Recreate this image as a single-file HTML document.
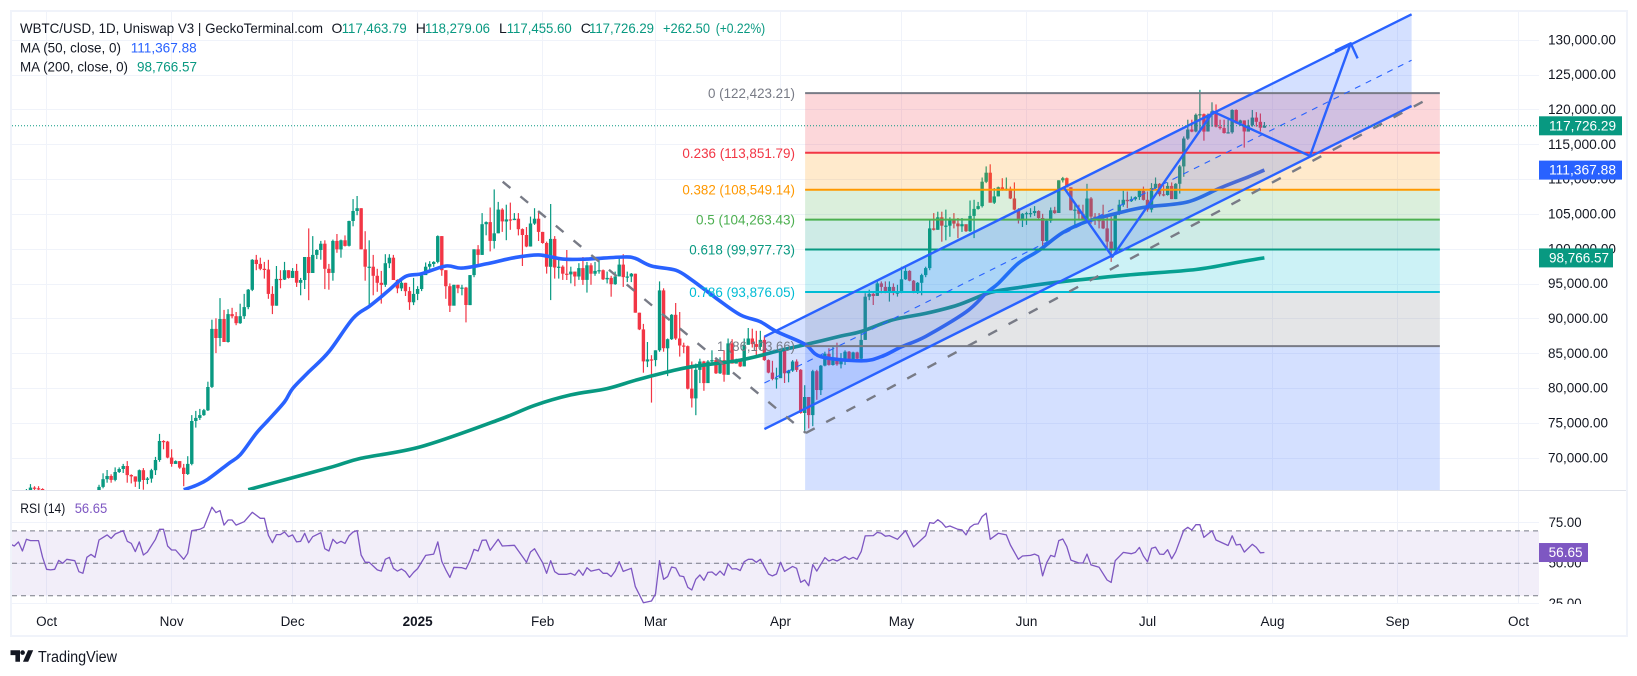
<!DOCTYPE html>
<html lang="en">
<head>
<meta charset="utf-8">
<title>WBTC/USD chart</title>
<style>
html,body{margin:0;padding:0;background:#fff;width:1637px;height:676px;overflow:hidden}
svg{display:block}
text{font-family:"Liberation Sans",sans-serif;font-size:14px;fill:#131722}
</style>
</head>
<body>
<svg id="chart" xmlns="http://www.w3.org/2000/svg" width="1637" height="676" viewBox="0 0 1637 676">
  <defs>
    <clipPath id="price-clip"><rect x="12" y="12" width="1527" height="478"/></clipPath>
    <clipPath id="rsi-clip"><rect x="12" y="491" width="1527" height="113"/></clipPath>
    <clipPath id="axis-clip"><rect x="1539" y="491" width="87" height="113"/></clipPath>
  </defs>
  <rect x="0" y="0" width="1637" height="676" fill="#ffffff"/>
  <g id="grid" shape-rendering="crispEdges"></g>
  <g id="price-pane" clip-path="url(#price-clip)">
    <g id="candles"></g>
    <g id="mas"></g>
    <g id="drawings"></g>
  </g>
  <g id="rsi-pane" clip-path="url(#rsi-clip)"></g>
  <rect x="12" y="490" width="1614" height="1" fill="#e0e3eb"/>
  <rect x="11" y="11" width="1616" height="625" fill="none" stroke="#f0f3fa" stroke-width="2"/>
  <g id="price-axis"></g>
  <g id="rsi-axis" clip-path="url(#axis-clip)"></g>
  <g id="time-axis"></g>
  <g id="tags"></g>

  <g>
    <text x="20" y="33" textLength="303" lengthAdjust="spacingAndGlyphs">WBTC/USD, 1D, Uniswap V3 | GeckoTerminal.com</text>
    <text x="331.5" y="33">O</text>
    <text x="341.7" y="33" textLength="65" lengthAdjust="spacingAndGlyphs" style="fill:#089981">117,463.79</text>
    <text x="415.7" y="33">H</text>
    <text x="425" y="33" textLength="65" lengthAdjust="spacingAndGlyphs" style="fill:#089981">118,279.06</text>
    <text x="499" y="33">L</text>
    <text x="506.7" y="33" textLength="65" lengthAdjust="spacingAndGlyphs" style="fill:#089981">117,455.60</text>
    <text x="580.7" y="33">C</text>
    <text x="589" y="33" textLength="65" lengthAdjust="spacingAndGlyphs" style="fill:#089981">117,726.29</text>
    <text x="663" y="33" textLength="47" lengthAdjust="spacingAndGlyphs" style="fill:#089981">+262.50</text>
    <text x="715.7" y="33" textLength="49.5" lengthAdjust="spacingAndGlyphs" style="fill:#089981">(+0.22%)</text>
    <text x="20" y="52.5" textLength="101" lengthAdjust="spacingAndGlyphs">MA (50, close, 0)</text>
    <text x="130.7" y="52.5" textLength="66" lengthAdjust="spacingAndGlyphs" style="fill:#2962ff">111,367.88</text>
    <text x="20" y="71.5" textLength="108" lengthAdjust="spacingAndGlyphs">MA (200, close, 0)</text>
    <text x="137" y="71.5" textLength="60" lengthAdjust="spacingAndGlyphs" style="fill:#089981">98,766.57</text>
    <text x="20.3" y="513" textLength="45" lengthAdjust="spacingAndGlyphs">RSI (14)</text>
    <text x="74.7" y="513" textLength="32.6" lengthAdjust="spacingAndGlyphs" style="fill:#7e57c2">56.65</text>
  </g>

  <g>
    <path fill="#131722" d="M10.5 650.3h9.5v11.4h-4.6v-6.6h-4.9z"/>
    <circle cx="22.6" cy="652.6" r="2.3" fill="#131722"/>
    <path fill="#131722" d="M28 650.3h5.2l-5 11.4h-5.2z"/>
    <text x="38" y="662" textLength="79" lengthAdjust="spacingAndGlyphs" style="font-size:15.5px">TradingView</text>
  </g>
</svg>
<script>
// ---------- chart data (prices in thousands of USD, days counted from 1 Oct 2024) ----------
const firstCandleDay = -8;
const firstCandleOpen = 63.0;
const candleCloses = [
63.3,63.5,64.2,65.2,65.8,65.7,65.6,65.1,
61.5,60.8,60.6,60.7,62.0,62.1,62.8,62.2,62.1,60.6,60.3,62.4,63.1,65.9,
67.0,67.46,66.9,68.04,68.47,68.9,67.6,67.4,66.65,68.3,
66.9,67.1,68.3,69.76,72.49,72.4,70.1,69.2,69.6,68.66,
67.75,69.2,75.36,75.8,76.2,76.9,80.24,88.57,87.27,90.0,
86.7,90.7,90.4,89.4,90.4,91.7,94.2,98.5,97.9,97.2,
97.1,93.6,91.9,95.75,95.65,97.0,95.9,96.9,95.2,95.6,
98.9,96.6,99.2,99.9,100.8,97.2,96.6,101.2,100.0,101.3,
100.5,104.06,105.5,105.9,100.0,97.5,97.5,96.2,95.2,94.9,
98.0,98.8,95.6,94.4,95.2,94.0,92.4,93.6,94.3,96.3,
97.5,97.9,98.2,101.9,97.0,94.7,91.9,94.9,94.4,94.5,
92.0,96.3,100.0,99.2,103.6,103.9,101.2,102.3,105.7,104.0,
104.3,104.2,104.4,102.9,102.05,100.4,103.7,104.4,102.5,100.9,
97.5,101.5,97.4,97.5,96.5,96.4,96.8,96.1,97.3,95.6,
97.7,96.5,96.9,97.0,95.7,95.9,95.0,96.1,97.8,96.0,
96.1,96.5,90.9,88.5,83.9,84.2,84.1,85.5,94.1,85.8,
87.1,90.6,87.2,86.2,86.1,80.0,78.6,82.7,83.9,80.8,
83.9,84.1,82.2,84.1,82.0,86.5,83.6,84.0,83.2,86.3,
87.2,86.4,86.0,87.0,84.1,82.3,81.4,81.5,85.4,82.2,
82.6,83.9,82.7,76.5,78.8,76.2,82.5,79.8,83.3,85.0,
83.4,84.2,83.5,84.2,85.3,84.2,85.2,84.3,87.0,93.2,
93.6,93.3,95.1,94.6,93.8,94.6,93.8,93.8,95.7,96.9,
95.5,93.9,95.2,96.3,97.3,103.0,102.8,104.6,103.4,103.4,
104.3,103.7,103.3,103.6,102.6,104.8,105.8,106.2,109.7,111.0,
106.7,107.6,108.9,108.5,108.7,107.3,105.7,104.2,105.1,105.2,
105.2,105.5,104.5,101.2,104.1,105.6,105.2,109.9,110.2,108.9,
105.6,105.7,105.1,104.2,107.3,104.7,104.2,104.1,103.0,101.1,
100.1,105.1,106.4,107.1,106.9,107.2,107.5,108.4,107.1,105.7,
108.8,109.4,107.9,107.8,109.1,107.2,109.4,111.9,115.9,117.2,
116.9,119.3,119.4,116.9,119.3,119.8,117.6,117.4,116.7,116.8,
120.0,118.1,118.5,116.9,117.8,118.9,118.3,117.46,117.73
];
const candleHighs = [
63.8,64.5,64.8,65.6,66.3,66.0,66.0,65.7,
64.0,62.0,61.5,61.2,62.2,62.4,63.0,63.1,62.7,62.3,61.2,62.6,63.5,66.2,
67.85,68.33,67.7,68.7,68.7,69.2,69.6,67.7,67.4,68.4,
68.6,67.3,68.5,70.2,73.5,72.6,72.5,71.3,69.7,69.6,
69.2,70.3,76.2,76.8,77.1,77.1,81.0,89.9,90.1,93.0,
91.3,91.4,91.6,91.0,92.2,93.6,94.3,98.6,99.2,98.8,
98.2,98.5,94.7,97.6,97.0,98.2,97.0,97.3,97.9,95.9,
98.9,103.0,101.9,100.0,101.2,101.3,97.9,101.4,102.2,101.4,
102.0,104.1,107.2,107.65,105.9,102.6,101.3,99.2,97.2,96.9,
99.3,99.3,99.2,95.7,95.7,95.2,94.6,95.9,94.7,96.4,
98.1,98.3,98.3,102.0,101.9,97.0,95.1,94.9,94.9,94.9,
94.6,96.3,100.0,100.6,105.2,104.0,106.0,108.6,106.8,105.9,
106.4,106.7,105.2,105.2,103.0,103.2,104.7,105.9,105.5,102.5,
101.1,106.5,101.9,98.9,97.7,99.9,97.5,96.8,98.0,98.9,
98.2,98.0,98.2,98.5,97.1,96.8,96.2,96.8,98.7,99.3,
96.8,96.6,96.5,90.9,89.3,86.7,84.8,85.5,95.4,94.4,
87.2,90.7,92.3,91.0,86.6,86.2,83.9,83.6,84.3,84.0,
84.1,85.5,84.2,84.5,85.5,87.2,87.1,84.3,84.1,87.2,
88.7,88.6,88.3,88.3,87.5,84.2,84.0,83.0,85.5,85.5,
82.7,84.1,84.2,82.8,80.5,78.8,82.7,82.7,83.4,85.3,
85.8,86.0,86.6,85.1,85.5,85.4,85.3,85.3,88.4,93.7,
94.2,93.9,95.6,95.4,95.4,95.4,95.1,94.9,97.5,97.5,
97.0,95.6,95.3,96.5,97.5,104.2,105.2,105.4,105.4,105.7,
104.6,105.2,104.5,104.5,103.5,107.0,107.1,106.8,110.3,111.9,
112.2,108.8,109.0,110.2,110.3,109.0,109.6,105.9,105.2,105.4,
105.9,106.2,105.6,105.1,104.2,106.0,106.1,109.9,110.4,110.3,
108.9,106.6,106.4,106.4,109.4,107.5,105.2,105.2,106.4,104.7,
104.7,105.2,107.1,108.4,108.3,107.6,107.6,108.5,109.0,108.3,
109.5,110.3,109.5,109.2,109.6,109.6,109.5,112.1,116.2,118.6,
118.6,119.5,122.9,119.5,119.5,121.1,120.8,118.6,118.6,118.6,
120.1,120.1,118.6,118.5,118.6,120.0,119.7,119.5,118.28
];
const candleLows = [
62.5,62.8,63.2,63.7,64.7,65.0,65.0,64.5,
61.0,60.0,60.2,60.0,60.5,61.6,61.9,61.9,61.8,60.3,59.0,60.0,62.0,62.8,
65.7,66.5,66.5,66.7,67.9,67.9,66.5,66.4,65.9,65.6,
65.5,66.3,66.5,67.6,69.5,71.3,70.0,68.8,69.2,68.5,
66.0,67.6,69.0,74.4,75.5,76.1,76.8,80.1,85.1,86.1,
86.7,86.6,90.1,89.1,89.3,90.0,91.4,94.0,97.0,97.0,
95.8,92.9,90.7,91.9,94.4,95.6,95.8,95.9,94.6,93.4,
94.3,92.7,96.6,98.6,98.5,94.3,94.2,95.5,99.5,98.8,
100.4,100.4,103.3,104.9,100.0,95.5,91.9,93.4,93.9,92.2,
94.6,97.3,95.6,93.7,94.0,93.3,91.3,92.0,92.7,94.0,
96.3,96.7,97.5,98.0,96.2,92.9,91.0,92.0,93.7,93.4,
89.5,92.0,96.0,97.5,99.2,102.0,99.7,100.1,102.3,102.5,
101.3,102.8,104.2,102.0,97.6,100.3,100.4,103.5,101.2,100.8,
96.5,92.7,95.8,95.8,95.6,95.6,95.1,94.7,95.6,94.9,
93.8,94.9,96.2,96.5,95.6,95.1,93.2,94.9,96.1,94.6,
95.3,95.3,90.9,88.4,82.3,83.1,78.0,83.2,85.3,85.3,
81.8,87.0,87.0,84.6,85.1,79.9,77.3,76.2,80.8,79.7,
80.9,83.6,82.1,82.1,81.0,82.0,83.6,83.6,83.1,83.2,
86.3,85.9,84.8,85.5,84.0,82.2,81.2,80.0,81.7,80.8,
80.9,82.4,82.4,76.4,74.0,74.3,74.6,78.4,79.1,83.2,
83.3,83.3,83.3,82.9,83.4,84.0,84.0,83.9,84.2,87.0,
92.7,92.0,93.3,93.7,93.7,92.5,93.4,93.2,93.7,95.6,
95.4,93.7,93.6,93.4,96.0,97.0,102.7,102.8,101.1,101.3,
101.8,103.0,101.6,102.5,102.5,102.5,101.6,105.7,106.0,109.5,
106.7,106.5,107.6,108.4,108.4,107.2,105.6,103.7,103.2,103.5,
104.6,104.8,104.4,100.3,101.1,103.8,105.1,105.2,109.6,108.9,
105.6,103.0,104.3,104.2,104.1,103.7,103.5,103.0,102.9,99.9,
98.2,100.1,104.9,106.1,105.9,106.8,107.0,107.1,107.0,105.4,
105.3,108.5,107.6,107.6,107.7,107.2,107.2,108.0,110.4,115.7,
116.8,116.8,116.9,115.6,116.9,117.6,117.5,117.2,116.6,116.6,
116.6,118.0,117.7,114.6,116.9,117.6,117.6,116.9,117.46
];
const ma50Days = [34,37,40,45,48,52,55,59,61,65,70,76,80,83,85,89,93,99,103,109,116,122,128,134,143,146,150,156,160,166,172,177,181,188,192,202,207,212,218,228,233,236,241,246,252,258,267,273,283,291,298,302];
const ma50Values = [65.5,66.1,67.0,69.2,70.5,73.6,75.5,78.1,80.0,82.4,85.3,90.1,91.8,93.2,94.2,96.1,96.5,97.6,97.3,97.9,98.8,99.2,98.6,98.6,98.9,98.7,97.6,97.0,95.6,93.0,90.6,89.6,88.2,86.4,84.6,84.0,84.6,86.0,87.5,91.0,93.7,95.1,98.0,99.8,102.4,104.0,105.4,106.1,106.8,108.8,110.4,111.37];
const ma200Days = [50,59,71,78,93,112,121,130,139,146,154,160,172,182,188,197,202,210,218,226,234,241,251,268,285,296,302];
const ma200Values = [65.5,66.9,68.8,70.0,71.7,75.5,77.6,79.1,80.0,81.2,82.4,83.15,84.1,85.5,86.3,87.55,88.2,89.9,90.8,92.0,93.8,94.5,95.3,96.3,97.1,98.2,98.77];
const rsiDays = [-9,-8,-7,-6,-5,-4,-2,-1,0,1,2,3,4,5,7,8,9,10,11,12,13,14,15,16,17,19,20,21,22,23,24,25,27,28,29,30,31,32,34,35,36,38,39,41,42,43,44,45,46,47,49,51,53,54,55,56,57,58,59,60,61,62,63,64,65,66,68,69,70,71,72,73,74,75,76,77,78,79,80,82,83,84,85,86,87,88,89,90,91,92,94,96,97,98,99,100,101,103,104,105,106,107,108,109,110,112,113,116,119,120,121,123,124,125,126,127,129,130,131,132,133,134,135,137,138,139,140,141,142,143,145,146,148,150,151,152,153,154,155,156,157,158,159,160,161,162,163,164,165,166,167,168,169,170,171,172,173,174,175,176,177,179,180,181,182,183,185,186,187,188,189,190,191,193,194,195,196,198,199,200,201,202,203,205,206,207,208,209,211,213,215,218,219,220,221,222,223,224,226,227,228,229,230,231,232,233,234,236,238,239,241,242,244,245,246,247,248,249,250,251,252,253,254,256,257,258,259,261,263,264,265,267,269,270,271,272,273,274,275,276,277,278,279,280,282,283,284,285,286,287,289,290,293,294,295,296,297,299,300,301,302];
const rsiValues = [61.9,60.7,63.2,57.6,64.8,64,64,53.7,46.3,45.9,46.3,51.8,50,52.5,51.6,44.8,43.8,53.7,55.5,53.7,64.4,66,67.5,65.4,68.1,70.2,63.6,62.3,57.2,63.2,55.1,57,64.8,71,71,60.7,58.2,58.2,52.5,56.2,70.2,71,72.2,84.6,81.3,82.5,73.6,76.7,76.7,73.6,75.7,81.5,77.8,77.8,67.3,62.7,67.7,67.7,69.3,66.4,67.5,63.2,63.6,68.5,62.7,66.4,68.9,59,57.6,64.8,62.3,63.6,62.3,66.9,69.3,70.2,55.1,50.6,50.6,45.9,45.2,52.5,53.7,46.9,45.2,46.5,44.8,41.3,44.4,46.7,54.9,55.7,63.2,51.2,45.9,41.3,47.5,47.3,46.5,51.6,58.6,57.6,64.2,64.4,58,64.8,60.7,61.1,50.6,57,59,50.4,43.8,51.6,44.8,43.2,43.2,43.8,42.6,45.9,42.6,47.3,45.2,46.3,43.8,43.8,41.8,45.2,51,45,46.9,35.6,25.7,26.7,31.1,51.6,40.1,41.8,47.7,47.1,42.2,41.8,35.2,33.5,40.1,42.8,39.5,44.4,44.6,42.6,45.2,42.6,49.6,46.5,46.7,45.5,51,52.5,52.5,50.6,52.5,43.4,42.2,43.4,50.6,45,48.1,46.9,38.3,39.7,36.2,49.2,45.2,53.5,51.4,52.5,51.4,54.1,52.5,53.7,52.5,57.2,66.9,67.1,69.1,68.5,66.7,67.1,64.8,70.2,60.1,67.1,75.1,74.7,76.9,75.1,72.2,73,71,70.6,67.5,72.2,74,74.3,78.8,80.9,64.8,68.5,67.5,61.3,52.5,54.5,54.9,55.7,54.5,42.2,50.4,54.9,54.1,64,65,60.3,52,50.2,50.2,55.7,49,47.5,39.7,38.2,51.6,56.7,55.9,56.7,59.8,54.5,51,59.2,60,55.7,55.5,58.4,52.8,57.1,70.5,72.2,70.5,73.8,73.8,66,70.1,64.4,61,67,61.3,61.7,56.9,61.7,59.8,56.5,56.65];
const priceTickValues = [130,125,120,115,110,105,100,95,90,85,80,75,70];
const priceTickLabels = ["130,000.00","125,000.00","120,000.00","115,000.00","110,000.00","105,000.00","100,000.00","95,000.00","90,000.00","85,000.00","80,000.00","75,000.00","70,000.00"];
const rsiTickValues = [75,50,25];
const rsiTickLabels = ["75.00","50.00","25.00"];
const rsiBandValues = [70,50,30];
const timeTickDays = [0,31,61,92,123,151,182,212,243,273,304,335,365];
const timeTickLabels = ["Oct","Nov","Dec","2025","Feb","Mar","Apr","May","Jun","Jul","Aug","Sep","Oct"];
const fibRatios = ["0","0.236","0.382","0.5","0.618","0.786","1"];
const fibPrices = [122.42321,113.85179,108.54914,104.26343,99.97773,93.87605,86.10366];
const fibLabels = ["(122,423.21)","(113,851.79)","(108,549.14)","(104,263.43)","(99,977.73)","(93,876.05)","(86,103.66)"];
const fibColors = ["#787b86","#f23645","#ff9800","#4caf50","#089981","#00bcd4","#787b86"];
const fibFills = ["#f23645","#ff9800","#4caf50","#089981","#00bcd4","#787b86","#2962ff"];
const fibLabelWidths = [87,112.6,112.6,99,105.7,105.7,78];
const fibStartDay = 188.1;
const fibEndDay = 345.5;
const channelDays = [178,338.5];
const channelUpperPrices = [87.46,133.73];
const channelMiddlePrices = [80.81,127.14];
const channelLowerPrices = [74.2,120.57];
const dashedDownDays = [113.1,188.3];
const dashedDownPrices = [109.7,73.64];
const dashedUpDays = [188.3,343.9];
const dashedUpPrices = [73.64,122.0];
const pathDays = [252.1,264.3,289.3,313.3,323.4];
const pathPrices = [108.99,98.94,119.75,113.39,129.57];
const arrowHeadDays = [319.5,323.4,325.1];
const arrowHeadPrices = [128.5,129.57,127.4];
const tagPrices = [117.72629,111.36788,98.76657];
const tagLabels = ["117,726.29","111,367.88","98,766.57"];
const tagColors = ["#089981","#2962ff","#089981"];
const tagWidths = [83,83,74];
const rsiLast = 56.65;

// ---------- axis functions ----------
const SVGNS = "http://www.w3.org/2000/svg";
const xOfDay = d => 46.6 + d * 4.0325;
const yOfPrice = p => 40.3 + (130 - p) * 6.967;
const yOfRsi = r => 563.3 - (r - 50) * 1.62;
function make(tag, parent, attrs) {
  const el = document.createElementNS(SVGNS, tag);
  for (const k in attrs) el.setAttribute(k, attrs[k]);
  parent.appendChild(el);
  return el;
}
function linePoints(days, values, yFn) {
  return days.map((d, i) => xOfDay(d).toFixed(1) + "," + yFn(values[i]).toFixed(1)).join(" ");
}
// Smooth curve through the read points (moving averages are smooth in the source).
function smoothPath(days, values, yFn) {
  const pts = days.map((d, i) => [xOfDay(d), yFn(values[i])]);
  let s = "M" + pts[0][0].toFixed(1) + " " + pts[0][1].toFixed(1);
  for (let i = 0; i < pts.length - 1; i++) {
    const p0 = pts[Math.max(0, i - 1)], p1 = pts[i], p2 = pts[i + 1], p3 = pts[Math.min(pts.length - 1, i + 2)];
    const c1x = p1[0] + (p2[0] - p0[0]) / 6, c1y = p1[1] + (p2[1] - p0[1]) / 6;
    const c2x = p2[0] - (p3[0] - p1[0]) / 6, c2y = p2[1] - (p3[1] - p1[1]) / 6;
    s += "C" + c1x.toFixed(1) + " " + c1y.toFixed(1) + " " + c2x.toFixed(1) + " " + c2y.toFixed(1) + " " + p2[0].toFixed(1) + " " + p2[1].toFixed(1);
  }
  return s;
}
const gridG = document.getElementById("grid");
const candlesG = document.getElementById("candles");
const masG = document.getElementById("mas");
const drawG = document.getElementById("drawings");
const rsiG = document.getElementById("rsi-pane");
const priceAxis = document.getElementById("price-axis");
const rsiAxis = document.getElementById("rsi-axis");
const timeAxis = document.getElementById("time-axis");
const tagsG = document.getElementById("tags");

// ---------- grid ----------
priceTickValues.forEach((p) => {
  const r = make("rect", gridG, {x: 12, y: Math.floor(yOfPrice(p)), width: 1527, height: 1, fill: "#f0f3fa"});
  
  
});
rsiTickValues.forEach((v) => {
  const r = make("rect", gridG, {x: 12, y: Math.floor(yOfRsi(v)), width: 1527, height: 1, fill: "#f0f3fa"});
  
  
});
timeTickDays.forEach((d) => {
  const r = make("rect", gridG, {x: Math.floor(xOfDay(d)), y: 12, width: 1, height: 592, fill: "#f0f3fa"});
  
  
});

// ---------- candles ----------
candleCloses.forEach((close, i) => {
  const open = i === 0 ? firstCandleOpen : candleCloses[i - 1];
  const up = close >= open;
  const color = up ? "#089981" : "#f23645";
  const cx = xOfDay(firstCandleDay + i);
  const g = make("g", candlesG, {fill: color});
  
  
  const yH = yOfPrice(candleHighs[i]);
  const yL = yOfPrice(candleLows[i]);
  make("rect", g, {x: (cx - 0.6).toFixed(2), y: yH.toFixed(1), width: 1.2, height: Math.max(1, yL - yH).toFixed(1)});
  const yTop = yOfPrice(Math.max(open, close));
  const yBot = yOfPrice(Math.min(open, close));
  make("rect", g, {x: (cx - 1.7).toFixed(2), y: yTop.toFixed(1), width: 3.4, height: Math.max(1.2, yBot - yTop).toFixed(1)});
});

// ---------- moving averages ----------
const ma200Line = make("path", masG, {d: smoothPath(ma200Days, ma200Values, yOfPrice), fill: "none", stroke: "#089981", "stroke-width": 3.6, "stroke-linejoin": "round"});


const ma50Line = make("path", masG, {d: smoothPath(ma50Days, ma50Values, yOfPrice), fill: "none", stroke: "#2962ff", "stroke-width": 3.6, "stroke-linejoin": "round"});



// ---------- fibonacci retracement ----------
const fx0 = xOfDay(fibStartDay);
const fx1 = xOfDay(fibEndDay);
fibPrices.forEach((p, i) => {
  const top = yOfPrice(p);
  const bottom = i < fibPrices.length - 1 ? yOfPrice(fibPrices[i + 1]) : 492;
  const band = make("rect", drawG, {x: fx0, y: top, width: fx1 - fx0, height: bottom - top, fill: fibFills[i], "fill-opacity": 0.2});
  
  
});

// ---------- parallel channel ----------
const chFill = make("polygon", drawG, {
  points: linePoints(channelDays, channelUpperPrices, yOfPrice) + " " +
          linePoints(channelDays.slice().reverse(), channelLowerPrices.slice().reverse(), yOfPrice),
  fill: "#2962ff", "fill-opacity": 0.2
});



fibPrices.forEach((p, i) => {
  const y = yOfPrice(p);
  const ln = make("line", drawG, {x1: fx0, x2: fx1, y1: y, y2: y, stroke: fibColors[i], "stroke-width": 2});
  
  
  const t = make("text", drawG, {x: 795, y: y + 5, "text-anchor": "end", textLength: fibLabelWidths[i], lengthAdjust: "spacingAndGlyphs", style: "fill:" + fibColors[i]});
  
  
  t.textContent = fibRatios[i] + " " + fibLabels[i];
});

const chUpper = make("polyline", drawG, {points: linePoints(channelDays, channelUpperPrices, yOfPrice), fill: "none", stroke: "#2962ff", "stroke-width": 2.4});


const chLower = make("polyline", drawG, {points: linePoints(channelDays, channelLowerPrices, yOfPrice), fill: "none", stroke: "#2962ff", "stroke-width": 2.4});


const chMid = make("polyline", drawG, {points: linePoints(channelDays, channelMiddlePrices, yOfPrice), fill: "none", stroke: "#2962ff", "stroke-width": 1.1, "stroke-dasharray": "6 6"});



// ---------- dashed trend lines ----------
const dashDown = make("polyline", drawG, {points: linePoints(dashedDownDays, dashedDownPrices, yOfPrice), fill: "none", stroke: "#787b86", "stroke-width": 2.4, "stroke-dasharray": "10 13"});


const dashUp = make("polyline", drawG, {points: linePoints(dashedUpDays, dashedUpPrices, yOfPrice), fill: "none", stroke: "#787b86", "stroke-width": 2.4, "stroke-dasharray": "10 13"});



// ---------- projected path arrow ----------
const pathLine = make("polyline", drawG, {points: linePoints(pathDays, pathPrices, yOfPrice), fill: "none", stroke: "#2962ff", "stroke-width": 2.4, "stroke-linejoin": "round"});


const arrowHead = make("polyline", drawG, {points: linePoints(arrowHeadDays, arrowHeadPrices, yOfPrice), fill: "none", stroke: "#2962ff", "stroke-width": 2.4, "stroke-linejoin": "round"});



// ---------- last price line ----------
const lastY = yOfPrice(tagPrices[0]);
const lastLine = make("line", drawG, {x1: 12, x2: 1539, y1: lastY, y2: lastY, stroke: "#089981", "stroke-width": 1, "stroke-dasharray": "1 2"});



// ---------- RSI pane ----------
const rsiBand = make("rect", rsiG, {x: 12, y: yOfRsi(rsiBandValues[0]), width: 1527, height: yOfRsi(rsiBandValues[2]) - yOfRsi(rsiBandValues[0]), fill: "#7e57c2", "fill-opacity": 0.1});


rsiBandValues.forEach((v) => {
  const y = yOfRsi(v);
  const ln = make("line", rsiG, {x1: 12, x2: 1539, y1: y, y2: y, stroke: "#787b86", "stroke-width": 1, "stroke-dasharray": "5 4"});
  
  
});
const rsiLine = make("polyline", rsiG, {points: linePoints(rsiDays, rsiValues, yOfRsi), fill: "none", stroke: "#7e57c2", "stroke-width": 1.3, "stroke-linejoin": "round"});



// ---------- axes ----------
priceTickValues.forEach((p, i) => {
  const t = make("text", priceAxis, {x: 1548, y: yOfPrice(p) + 4, textLength: priceTickLabels[i].length === 10 ? 68 : 60, lengthAdjust: "spacingAndGlyphs"});
  
  
  t.textContent = priceTickLabels[i];
});
rsiTickValues.forEach((v, i) => {
  const t = make("text", rsiAxis, {x: 1548.6, y: yOfRsi(v) + 4, textLength: 33, lengthAdjust: "spacingAndGlyphs"});
  
  
  t.textContent = rsiTickLabels[i];
});
timeTickDays.forEach((d, i) => {
  const bold = timeTickLabels[i] === "2025";
  const t = make("text", timeAxis, {x: xOfDay(d), y: 626, "text-anchor": "middle", style: bold ? "font-weight:bold;font-size:13.5px" : "font-size:13.5px"});
  
  
  t.textContent = timeTickLabels[i];
});

// ---------- price tags ----------
tagPrices.forEach((p, i) => {
  const y = yOfPrice(p);
  const g = make("g", tagsG, {});
  
  
  make("rect", g, {x: 1539, y: y - 9.5, width: tagWidths[i], height: 19, fill: tagColors[i]});
  const t = make("text", g, {x: 1549, y: y + 4.5, textLength: tagLabels[i].length === 10 ? 67 : 60, lengthAdjust: "spacingAndGlyphs", style: "fill:#ffffff"});
  t.textContent = tagLabels[i];
});
const rsiTag = make("g", tagsG, {});


make("rect", rsiTag, {x: 1539, y: yOfRsi(rsiLast) - 9.5, width: 49, height: 19, fill: "#7e57c2"});
const rsiTagText = make("text", rsiTag, {x: 1548.6, y: yOfRsi(rsiLast) + 4.5, textLength: 34, lengthAdjust: "spacingAndGlyphs", style: "fill:#ffffff"});
rsiTagText.textContent = rsiLast.toFixed(2);
</script>
</body>
</html>
